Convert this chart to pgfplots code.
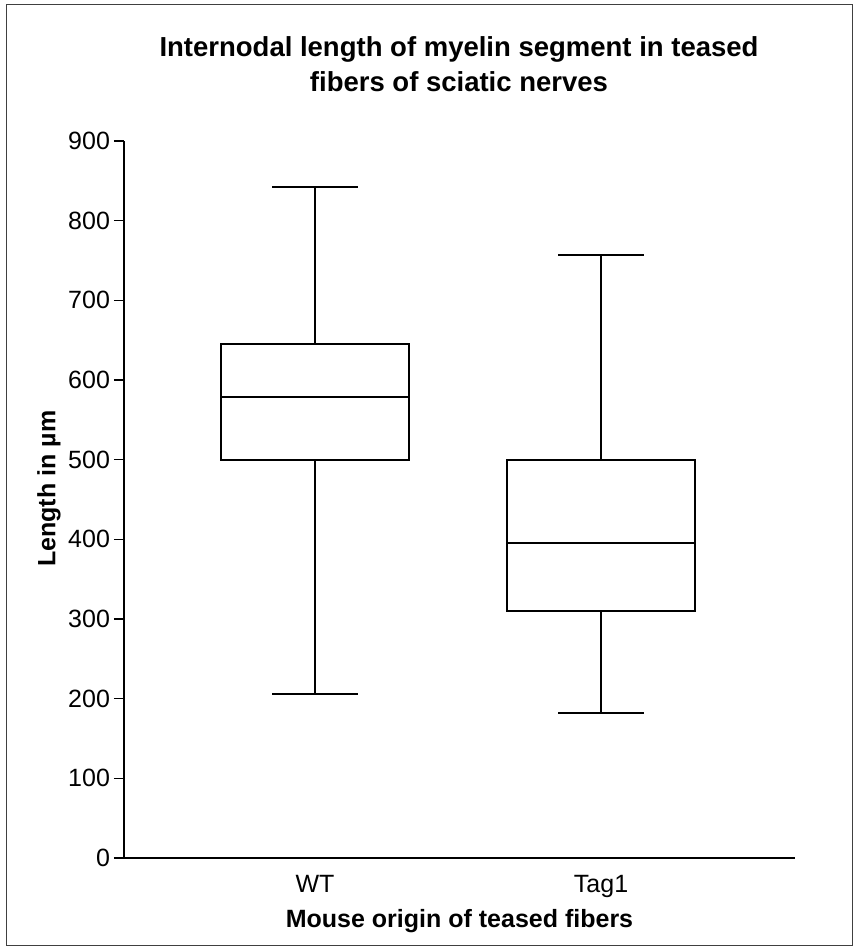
\documentclass[border=0pt]{standalone}
\usepackage{fontspec}
\setmainfont{Liberation Sans}
\usepackage{pgfplots}
\pgfplotsset{compat=1.18}
\begin{document}
\begin{tikzpicture}
% page = 430 x 475 pt (half of 860 x 950 px), axis origin at px (124,858)
\useasboundingbox (-62pt,-46pt) rectangle (368pt,429pt);
\fill[white] (-62pt,-46pt) rectangle (368pt,429pt);
\draw[black!75, line width=0.5pt] (-58.5pt,-43.5pt) rectangle (364pt,426.5pt);
\node[anchor=base, font=\bfseries\fontsize{13.75}{16.5}\selectfont] at (167.5pt,400.5pt)
  {Internodal length of myelin segment in teased};
\node[anchor=base, font=\bfseries\fontsize{13.75}{16.5}\selectfont] at (167.5pt,383pt)
  {fibers of sciatic nerves};
\begin{axis}[
    at={(0pt,0pt)}, anchor=south west,
    scale only axis,
    width=335.5pt, height=358.5pt,
    xmin=0.332, xmax=2.678,
    ymin=0, ymax=900,
    axis lines=left,
    axis line style={-, line width=1.2pt},
    ytick={0,100,...,900},
    xtick={1,2},
    xticklabels={WT,Tag1},
    tick align=outside,
    major tick length=5pt,
    tick style={line width=0.8pt, black},
    xtick style={draw=none},
    font=\fontsize{12.5}{15}\selectfont,
    yticklabel style={xshift=1.5pt},
    /pgf/number format/assume math mode=true,
    xlabel={Mouse origin of teased fibers},
    ylabel={Length in µm},
    xlabel style={font=\bfseries\fontsize{12.5}{15}\selectfont,
        at={(axis description cs:0.5,0)}, anchor=base, yshift=-34.5pt},
    ylabel style={font=\bfseries\fontsize{12.5}{15}\selectfont,
        at={(axis description cs:-0.112,0.515)}, anchor=center},
    bx/.style={black, solid, no markers, line width=1pt},
]
  % WT: whiskers 206 / 842, quartiles 500 / 645, median 579
  \addplot[bx] coordinates {(0.67,500) (1.33,500) (1.33,645) (0.67,645)} --cycle;
  \addplot[bx] coordinates {(0.67,579) (1.33,579)};
  \addplot[bx] coordinates {(1,645) (1,842)};
  \addplot[bx] coordinates {(0.85,842) (1.15,842)};
  \addplot[bx] coordinates {(1,500) (1,206)};
  \addplot[bx] coordinates {(0.85,206) (1.15,206)};
  % Tag1: whiskers 182 / 757, quartiles 310 / 500, median 395
  \addplot[bx] coordinates {(1.67,310) (2.33,310) (2.33,500) (1.67,500)} --cycle;
  \addplot[bx] coordinates {(1.67,395) (2.33,395)};
  \addplot[bx] coordinates {(2,500) (2,757)};
  \addplot[bx] coordinates {(1.85,757) (2.15,757)};
  \addplot[bx] coordinates {(2,310) (2,182)};
  \addplot[bx] coordinates {(1.85,182) (2.15,182)};
\end{axis}
\end{tikzpicture}
\end{document}
